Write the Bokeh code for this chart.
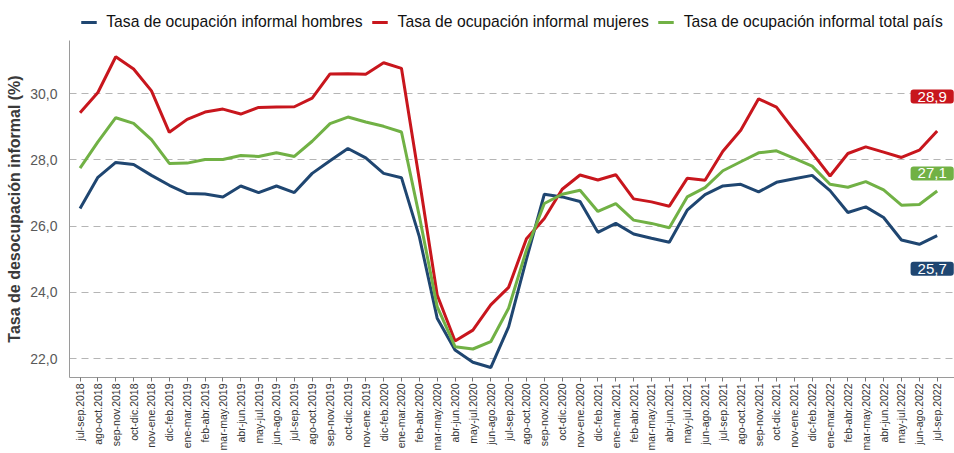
from bokeh.plotting import figure
from bokeh.layouts import column
from bokeh.models import Range1d, FixedTicker, Legend, LegendItem, Label
from bokeh.embed import file_html
from bokeh.resources import INLINE

periods = [
    "jul-sep.2018", "ago-oct.2018", "sep-nov.2018", "oct-dic.2018", "nov-ene.2018",
    "dic-feb.2019", "ene-mar.2019", "feb-abr.2019", "mar-may.2019", "abr-jun.2019",
    "may-jul.2019", "jun-ago.2019", "jul-sep.2019", "ago-oct.2019", "sep-nov.2019",
    "oct-dic.2019", "nov-ene.2019", "dic-feb.2020", "ene-mar.2020", "feb-abr.2020",
    "mar-may.2020", "abr-jun.2020", "may-jul.2020", "jun-ago.2020", "jul-sep.2020",
    "ago-oct.2020", "sep-nov.2020", "oct-dic.2020", "nov-ene.2020", "dic-feb.2021",
    "ene-mar.2021", "feb-abr.2021", "mar-may.2021", "abr-jun.2021", "may-jul.2021",
    "jun-ago.2021", "jul-sep.2021", "ago-oct.2021", "sep-nov.2021", "oct-dic.2021",
    "nov-ene.2021", "dic-feb.2022", "ene-mar.2022", "feb-abr.2022", "mar-may.2022",
    "abr-jun.2022", "may-jul.2022", "jun-ago.2022", "jul-sep.2022",
]

hombres = [
    26.53, 27.47, 27.92, 27.86, 27.53, 27.23, 26.98, 26.97, 26.88, 27.21,
    27.01, 27.21, 27.01, 27.59, 27.97, 28.34, 28.06, 27.59, 27.46, 25.68,
    23.22, 22.26, 21.89, 21.73, 22.96, 25.00, 26.96, 26.88, 26.74, 25.81,
    26.08, 25.76, 25.63, 25.51, 26.48, 26.95, 27.21, 27.26, 27.03, 27.32,
    27.43, 27.53, 27.07, 26.41, 26.58, 26.26, 25.58, 25.45, 25.71,
]

mujeres = [
    29.42, 30.03, 31.11, 30.74, 30.08, 28.83, 29.22, 29.44, 29.53, 29.38,
    29.58, 29.59, 29.60, 29.86, 30.59, 30.60, 30.58, 30.93, 30.76, 27.40,
    23.92, 22.53, 22.86, 23.62, 24.15, 25.62, 26.23, 27.11, 27.54, 27.39,
    27.55, 26.82, 26.73, 26.60, 27.44, 27.38, 28.26, 28.89, 29.84, 29.59,
    28.89, 28.21, 27.51, 28.19, 28.39, 28.23, 28.07, 28.29, 28.87,
]

total = [
    27.75, 28.54, 29.27, 29.10, 28.61, 27.89, 27.90, 28.01, 28.01, 28.13,
    28.10, 28.21, 28.10, 28.56, 29.09, 29.29, 29.14, 29.01, 28.84, 26.30,
    23.57, 22.36, 22.29, 22.51, 23.52, 25.28, 26.68, 26.96, 27.08, 26.44,
    26.68, 26.18, 26.08, 25.95, 26.88, 27.16, 27.67, 27.94, 28.21, 28.27,
    28.04, 27.81, 27.26, 27.17, 27.34, 27.09, 26.63, 26.65, 27.06,
]

series_names = [
    "Tasa de ocupación informal hombres",
    "Tasa de ocupación informal mujeres",
    "Tasa de ocupación informal total país",
]

y_ticks = [22, 24, 26, 28, 30]
y_tick_labels = ["22,0", "24,0", "26,0", "28,0", "30,0"]
y_title = "Tasa de desocupación informal (%)"

colors = ["#1f4671", "#c8161d", "#71b145"]
label_dy = [-1.0, 1.04, 0.53]

FONT = "Liberation Sans"

x = list(range(len(periods)))

# ---------- legend strip ----------
leg_fig = figure(
    width=954, height=40, title=None,
    x_range=Range1d(0, 1), y_range=Range1d(0, 1),
    x_axis_location=None, y_axis_location=None,
    output_backend="svg", toolbar_location=None,
    min_border_left=69, min_border_right=0, min_border_top=4, min_border_bottom=0,
)
leg_fig.outline_line_color = None
leg_fig.grid.grid_line_color = None

items = []
for name, col in zip(series_names, colors):
    # legend-only renderer, kept outside the visible range of this strip
    r = leg_fig.line([5, 6], [5, 6], line_color=col, line_width=3)
    items.append(LegendItem(label=name, renderers=[r]))

legend = Legend(items=items, orientation="horizontal", location="center")
legend.label_text_font = FONT
legend.label_text_font_size = "15.7px"
legend.label_text_color = "#111111"
legend.glyph_width = 16
legend.glyph_height = 20
legend.label_height = 20
legend.label_standoff = 10
legend.spacing = 9
legend.padding = 0
legend.margin = 0
legend.border_line_color = None
legend.background_fill_alpha = 0
leg_fig.add_layout(legend, "center")

# ---------- main chart ----------
p = figure(
    width=954, height=413, title=None,
    x_range=Range1d(-0.59, len(periods) - 0.03),
    y_range=Range1d(21.43, 31.6),
    output_backend="svg", toolbar_location=None,
    min_border_left=69, min_border_right=0, min_border_top=0, min_border_bottom=0,
)
p.outline_line_color = None
p.background_fill_color = "white"

p.xgrid.grid_line_color = None
p.ygrid.ticker = FixedTicker(ticks=y_ticks)
p.ygrid.grid_line_color = "#b5b5b5"
p.ygrid.grid_line_dash = "7 5"
p.ygrid.grid_line_width = 1.2

p.yaxis.ticker = FixedTicker(ticks=y_ticks)
p.yaxis.major_label_overrides = {t: l for t, l in zip(y_ticks, y_tick_labels)}
p.yaxis.axis_label = y_title
p.yaxis.axis_label_text_font = FONT
p.yaxis.axis_label_text_font_size = "16px"
p.yaxis.axis_label_text_font_style = "bold"
p.yaxis.axis_label_text_color = "#3a3a3a"
p.yaxis.axis_label_standoff = 4
p.yaxis.major_label_text_font = FONT
p.yaxis.major_label_text_font_size = "14px"
p.yaxis.major_label_text_color = "#595959"
p.yaxis.major_tick_line_color = None
p.yaxis.minor_tick_line_color = None
p.yaxis.axis_line_color = "#9a9a9a"
p.yaxis.major_label_standoff = 6

p.xaxis.ticker = FixedTicker(ticks=x)
p.xaxis.major_label_overrides = {i: s for i, s in zip(x, periods)}
p.xaxis.major_label_orientation = 1.5707963267948966
p.xaxis.major_label_text_font = FONT
p.xaxis.major_label_text_font_size = "10.5px"
p.xaxis.major_label_text_color = "#333333"
p.xaxis.major_label_standoff = 2
p.xaxis.major_tick_in = 0
p.xaxis.major_tick_out = 4
p.xaxis.major_tick_line_color = "#777777"
p.xaxis.minor_tick_line_color = None
p.xaxis.axis_line_color = "#9a9a9a"

for vals, col in zip([hombres, mujeres, total], colors):
    p.line(x, vals, line_color=col, line_width=3)

last = len(periods) - 1
for vals, col, dy in zip([hombres, mujeres, total], colors, label_dy):
    v = vals[-1]
    txt = f"{v:.1f}".replace(".", ",")
    lab = Label(
        x=last, y=v + dy, text=txt, x_offset=-5,
        text_align="center", text_baseline="middle",
        text_font=FONT, text_font_size="15px", text_color="white",
        background_fill_color=col,
        padding=dict(left=7, right=7, top=2, bottom=2),
        border_radius=3,
    )
    p.add_layout(lab)

layout = column(leg_fig, p, spacing=0)
open("out.html", "w").write(file_html(layout, INLINE))
